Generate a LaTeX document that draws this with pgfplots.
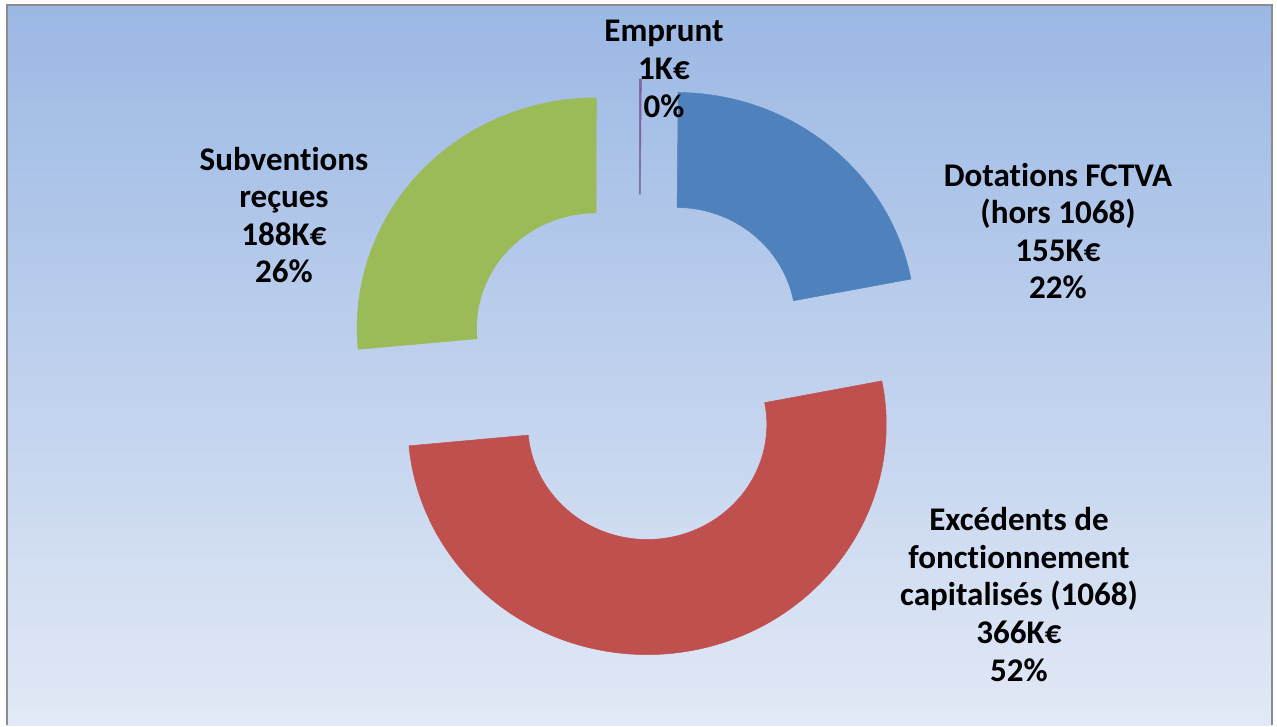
\documentclass[border=0pt]{standalone}
\usepackage{fontspec}
\setmainfont{Carlito}[Ligatures=NoCommon]
\usepackage{pgfplots}
\usepackage{pgfplotstable}
\pgfplotsset{compat=1.18}
\definecolor{bgtop}{RGB}{155,184,228}
\definecolor{bgbot}{RGB}{226,233,246}
\definecolor{cblue}{RGB}{79,129,189}
\definecolor{cred}{RGB}{192,80,77}
\definecolor{cgreen}{RGB}{155,187,89}
\definecolor{cpurple}{RGB}{128,100,162}
\definecolor{frame}{RGB}{140,140,140}

\pgfplotstableread{
name value col
Emprunt 1 cpurple
Dotations 155 cblue
Excedents 366 cred
Subventions 188 cgreen
}\slices

\begin{document}
\begin{tikzpicture}
\def\tot{0}
\pgfplotsforeachungrouped \i in {0,...,3}{%
  \pgfplotstablegetelem{\i}{value}\of\slices
  \pgfmathsetmacro\tot{\tot+\pgfplotsretval}}
\begin{axis}[x=0.01cm, y=0.01cm, xmin=0, xmax=1277, ymin=0, ymax=725,
  hide axis, clip=false, anchor=origin, at={(0,0)}]
  \fill[white] (axis cs:0,0) rectangle (axis cs:1277,725);
  \fill[top color=bgtop, bottom color=bgbot] (axis cs:7,0) rectangle (axis cs:1272,720);
  \draw[frame, line width=0.025cm] (axis cs:7,0) -- (axis cs:7,720) -- (axis cs:1272,720) -- (axis cs:1272,0);
  \def\cum{0}
  \pgfplotsforeachungrouped \i in {0,...,3}{%
    \pgfplotstablegetelem{\i}{value}\of\slices \let\sval\pgfplotsretval
    \pgfplotstablegetelem{\i}{col}\of\slices \let\scol\pgfplotsretval
    \pgfmathsetmacro\fa{\cum/\tot}
    \pgfmathsetmacro\fb{(\cum+\sval)/\tot}
    \pgfmathsetmacro\ta{90-360*\fa}
    \pgfmathsetmacro\tb{90-360*\fb}
    \pgfmathsetmacro\tm{(\ta+\tb)/2}
    \pgfmathsetmacro\sx{639+58*cos(\tm)}
    \pgfmathsetmacro\sy{358+58*sin(\tm)}
    \pgfmathsetmacro\ox{\sx+239*cos(\ta)}
    \pgfmathsetmacro\oy{\sy+230*sin(\ta)}
    \pgfmathsetmacro\ix{\sx+119.5*cos(\tb)}
    \pgfmathsetmacro\iy{\sy+115*sin(\tb)}
    \edef\doit{\noexpand\fill[\scol, draw=\scol, line width=0.005cm] (axis cs:\ox,\oy) arc[start angle=\ta, end angle=\tb, x radius=2.39cm, y radius=2.30cm] -- (axis cs:\ix,\iy) arc[start angle=\tb, end angle=\ta, x radius=1.195cm, y radius=1.15cm] -- cycle;}
    \doit
    \pgfmathsetmacro\cum{\cum+\sval}
  }
  \tikzset{lab/.style={align=center, inner sep=0pt, font=\fontsize{9.4}{10.7}\selectfont\bfseries}}
  \node[lab] at (axis cs:664,656) {Emprunt\\1K€\\0\%};
  \node[lab] at (axis cs:284,510) {Subventions\\reçues\\188K€\\26\%};
  \node[lab] at (axis cs:1058,494) {Dotations FCTVA\\(hors 1068)\\155K€\\22\%};
  \node[lab] at (axis cs:1019,130.5) {Excédents de\\fonctionnement\\capitalisés (1068)\\366K€\\52\%};
\end{axis}
\end{tikzpicture}
\end{document}
